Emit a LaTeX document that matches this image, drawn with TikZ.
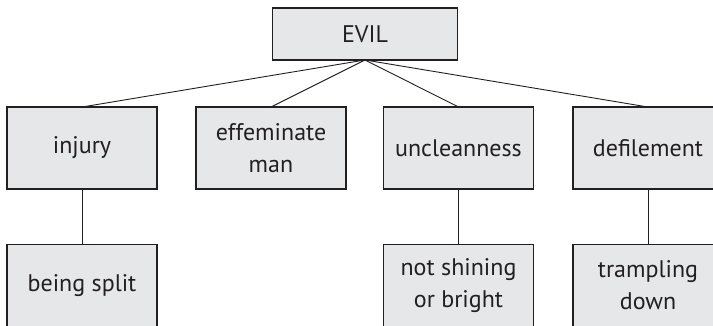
\documentclass[tikz,border=0pt]{standalone}
\usepackage{fontspec}
\setmainfont{PT Sans}
\definecolor{boxfill}{HTML}{E6E7E8}
\definecolor{ink}{HTML}{231F20}
\begin{document}
\begin{tikzpicture}[x=1pt,y=-1pt,
  box/.style={draw=ink,fill=boxfill,line width=1.1pt,minimum width=150pt,minimum height=82pt,
    inner sep=0pt,outer sep=0pt,align=center,text=ink,font=\fontsize{24}{32}\selectfont},
  topbox/.style={box,minimum width=185pt,minimum height=52pt},
  conn/.style={draw=ink,line width=0.9pt}]
\useasboundingbox (0,0) rectangle (713,326);
\clip (0,0) rectangle (713,326);
\node[topbox] (evil) at (365,34) {EVIL};
\node[box] (injury) at (82,148) {injury};
\node[box] (eff) at (271,148) {effeminate\\man};
\node[box] (uncl) at (458.5,148) {uncleanness};
\node[box] (defi) at (648,148) {defilement};
\node[box] (split) at (82,285.5) {being split};
\node[box] (shine) at (458.5,285.5) {not shining\\or bright};
\node[box] (tramp) at (648,285.5) {trampling\\down};
\draw[conn] (evil.south) -- (injury.north);
\draw[conn] (evil.south) -- (eff.north);
\draw[conn] (evil.south) -- (uncl.north);
\draw[conn] (evil.south) -- (defi.north);
\draw[conn] (injury.south) -- (split.north);
\draw[conn] (uncl.south) -- (shine.north);
\draw[conn] (defi.south) -- (tramp.north);
\end{tikzpicture}
\end{document}
